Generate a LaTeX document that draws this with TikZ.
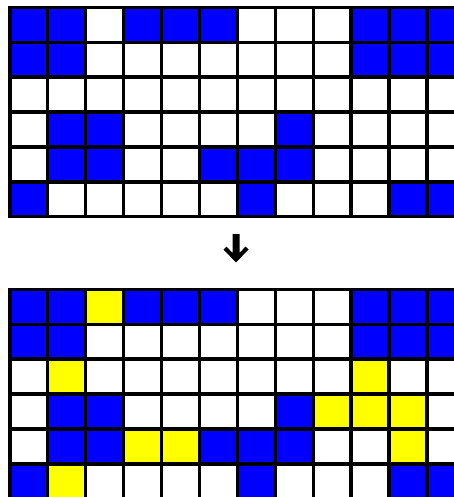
\documentclass[tikz,border=0pt]{standalone}
\definecolor{cellblue}{RGB}{0,0,255}
\definecolor{cellyellow}{RGB}{255,255,0}
\tikzset{
  cB/.style={fill=cellblue},
  cW/.style={fill=white},
  cY/.style={fill=cellyellow},
  gridline/.style={line width=3.6pt, draw=black, line cap=rect},
  downarrow/.style={fill=black}
}
\begin{document}
\begin{tikzpicture}[x=1pt,y=-1pt]
\useasboundingbox (0,0) rectangle (454,497);
\clip (0,0) rectangle (454,497);
\def\xo{9.7}\def\dx{37.95}\def\dy{34.85}
% top grid
\def\yo{7.5}
\foreach \row [count=\r from 0] in {
  {cB,cB,cW,cB,cB,cB,cW,cW,cW,cB,cB,cB},
  {cB,cB,cW,cW,cW,cW,cW,cW,cW,cB,cB,cB},
  {cW,cW,cW,cW,cW,cW,cW,cW,cW,cW,cW,cW},
  {cW,cB,cB,cW,cW,cW,cW,cB,cW,cW,cW,cW},
  {cW,cB,cB,cW,cW,cB,cB,cB,cW,cW,cW,cW},
  {cB,cW,cW,cW,cW,cW,cB,cW,cW,cW,cB,cB}}{
  \foreach \cc [count=\c from 0] in \row {
    \path[\cc] (\xo+\c*\dx,\yo+\r*\dy) rectangle ++(\dx,\dy);
  }
}
\foreach \k in {0,...,12}{\draw[gridline] (\xo+\k*\dx,\yo) -- (\xo+\k*\dx,\yo+6*\dy);}
\foreach \k in {0,...,6}{\draw[gridline] (\xo,\yo+\k*\dy) -- (\xo+12*\dx,\yo+\k*\dy);}
% bottom grid
\def\yo{289.5}
\foreach \row [count=\r from 0] in {
  {cB,cB,cY,cB,cB,cB,cW,cW,cW,cB,cB,cB},
  {cB,cB,cW,cW,cW,cW,cW,cW,cW,cB,cB,cB},
  {cW,cY,cW,cW,cW,cW,cW,cW,cW,cY,cW,cW},
  {cW,cB,cB,cW,cW,cW,cW,cB,cY,cY,cY,cW},
  {cW,cB,cB,cY,cY,cB,cB,cB,cW,cW,cY,cW},
  {cB,cY,cW,cW,cW,cW,cB,cW,cW,cW,cB,cB}}{
  \foreach \cc [count=\c from 0] in \row {
    \path[\cc] (\xo+\c*\dx,\yo+\r*\dy) rectangle ++(\dx,\dy);
  }
}
\foreach \k in {0,...,12}{\draw[gridline] (\xo+\k*\dx,\yo) -- (\xo+\k*\dx,\yo+6*\dy);}
\foreach \k in {0,...,6}{\draw[gridline] (\xo,\yo+\k*\dy) -- (\xo+12*\dx,\yo+\k*\dy);}
% arrow
\path[downarrow] (232.5,234) -- (239.5,234) -- (239.5,253) -- (245.5,246.5)
  -- (248.5,249.5) -- (236,262.5) -- (223.5,249.5) -- (226.5,246.5)
  -- (232.5,253) -- cycle;
\end{tikzpicture}
\end{document}
